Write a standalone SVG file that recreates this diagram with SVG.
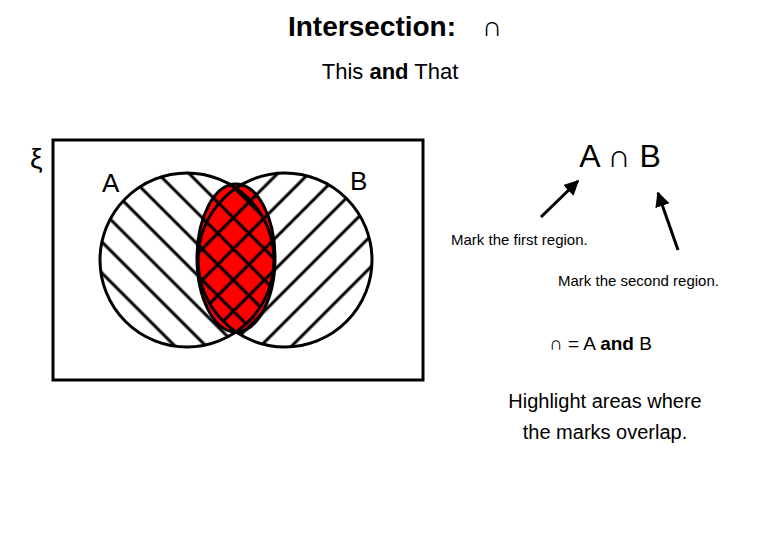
<svg xmlns="http://www.w3.org/2000/svg" width="780" height="540" viewBox="0 0 780 540">
<style>
text{font-family:"Liberation Sans",Arial,sans-serif;fill:#000}
.o{fill:none;stroke:#000;stroke-width:3}
.h{stroke:#000;stroke-width:3}
</style>
<defs>
<clipPath id="cA"><circle cx="187" cy="260" r="87"/></clipPath>
<clipPath id="cB"><circle cx="285" cy="260" r="87"/></clipPath>
<pattern id="pA" patternUnits="userSpaceOnUse" width="22" height="22" patternTransform="rotate(-45)"><line x1="11" y1="0" x2="11" y2="22" class="h"/></pattern>
<pattern id="pB" patternUnits="userSpaceOnUse" width="22" height="22" patternTransform="rotate(45)"><line x1="11" y1="0" x2="11" y2="22" class="h"/></pattern>
<marker id="ar" viewBox="0 0 10 10" refX="9" refY="5" markerWidth="5" markerHeight="5" orient="auto"><path d="M0,0L10,5L0,10z" fill="#000"/></marker>
</defs>
<rect width="780" height="540" fill="#fff"/>
<text x="372" y="36" font-size="28" font-weight="bold" text-anchor="middle">Intersection:</text>
<text x="492" y="36" font-size="28" text-anchor="middle">∩</text>
<text x="390" y="79" font-size="22" text-anchor="middle">This <tspan font-weight="bold">and</tspan> That</text>
<text x="30" y="168" font-size="28">ξ</text>
<g id="universe"><rect x="53" y="140" width="370" height="240" class="o"/></g>
<g id="setA"><circle cx="187" cy="260" r="87" fill="#fff"/></g>
<g id="setB"><circle cx="285" cy="260" r="87" fill="#fff"/></g>
<g id="overlap"><ellipse cx="236" cy="258" rx="39" ry="74" fill="#f00"/></g>
<rect x="90" y="160" width="200" height="200" fill="url(#pA)" clip-path="url(#cA)"/>
<rect x="190" y="160" width="200" height="200" fill="url(#pB)" clip-path="url(#cB)"/>
<circle cx="187" cy="260" r="87" class="o"/>
<circle cx="285" cy="260" r="87" class="o"/>
<ellipse cx="236" cy="258" rx="39" ry="74" class="o"/>
<text x="102" y="192" font-size="26">A</text>
<text x="350" y="190" font-size="26">B</text>
<text x="620" y="167" font-size="32" text-anchor="middle">A ∩ B</text>
<g id="connectors">
<line x1="541" y1="217" x2="578" y2="181" stroke="#000" stroke-width="3" marker-end="url(#ar)"/>
<line x1="678" y1="250" x2="658" y2="193" stroke="#000" stroke-width="3" marker-end="url(#ar)"/>
</g>
<text x="451" y="245" font-size="15">Mark the first region.</text>
<text x="558" y="286" font-size="15">Mark the second region.</text>
<text x="549" y="350" font-size="19">∩  = A <tspan font-weight="bold">and</tspan> B</text>
<text x="605" y="408" font-size="20" text-anchor="middle">Highlight areas where</text>
<text x="605" y="439" font-size="20" text-anchor="middle">the marks overlap.</text>
</svg>
